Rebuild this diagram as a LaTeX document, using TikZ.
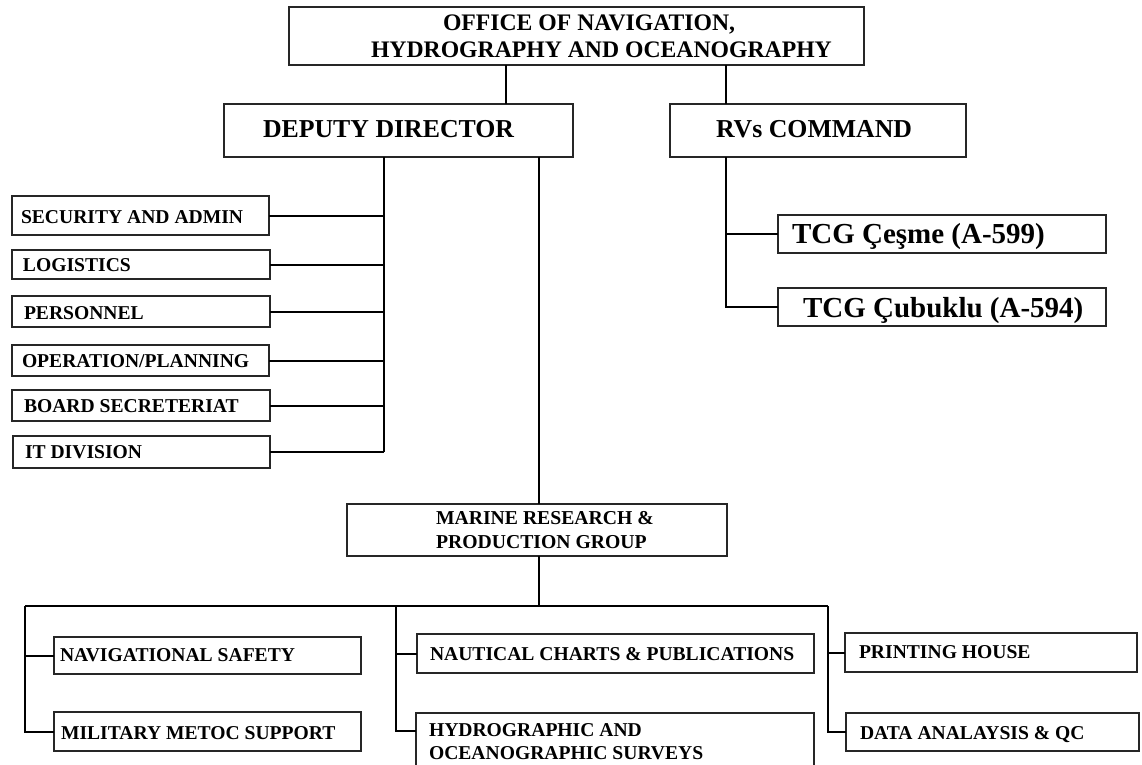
\documentclass[tikz,border=0pt]{standalone}
\usepackage{fontspec}
\setmainfont{Liberation Serif}
\newcommand\orgbox[5]{\node[box, minimum width={(#4-#2)*1pt}, minimum height={(#5-#3)*1pt}] (#1) at ({(#2+#4)/2},{(#3+#5)/2}) {};}
\newcommand\orgtxt[5]{\node[txt, font=\fontsize{#4}{#4}\selectfont\bfseries] (#1) at (#2,#3) {#5};}
\begin{document}
\begin{tikzpicture}[x=1pt,y=-1pt,
  box/.style={draw=black!85, line width=1.3pt, rectangle, inner sep=0pt, outer sep=0pt},
  txt/.style={anchor=base west, inner sep=0pt, outer sep=0pt},
  conn/.style={draw=black, line width=2pt}]
\useasboundingbox (0,0) rectangle (1142,764);
\clip (0,0) rectangle (1142,764);
% boxes
\orgbox{org}{289}{7}{864}{65}
\orgbox{dd}{224}{104}{573}{157}
\orgbox{rvs}{670}{104}{966}{157}
\orgbox{sec}{12}{196}{269}{235}
\orgbox{log}{12}{250}{270}{279}
\orgbox{per}{12}{296}{270}{327}
\orgbox{ops}{12}{345}{269}{376}
\orgbox{brd}{12}{390}{270}{421}
\orgbox{itd}{13}{436}{270}{468}
\orgbox{ces}{778}{215}{1106}{253}
\orgbox{cub}{778}{288}{1106}{326}
\orgbox{mar}{347}{504}{727}{556}
\orgbox{nav}{54}{637}{361}{674}
\orgbox{mil}{54}{712}{361}{751}
\orgbox{nau}{417}{634}{814}{673}
\orgbox{hyd}{416}{713}{814}{775}
\orgbox{prt}{845}{633}{1137}{672}
\orgbox{dat}{846}{713}{1139}{751}
% texts
\orgtxt{orgA}{443}{30}{23.7}{OFFICE OF NAVIGATION,}
\orgtxt{orgB}{371}{57}{23.7}{HYDROGRAPHY AND OCEANOGRAPHY}
\orgtxt{ddT}{263}{137}{25.8}{DEPUTY DIRECTOR}
\orgtxt{rvsT}{716}{137}{25.8}{RVs COMMAND}
\orgtxt{secT}{21}{223}{19.6}{SECURITY AND ADMIN}
\orgtxt{logT}{23}{271}{19.6}{LOGISTICS}
\orgtxt{perT}{24}{319}{19.6}{PERSONNEL}
\orgtxt{opsT}{22}{367}{19.6}{OPERATION/PLANNING}
\orgtxt{brdT}{24}{412}{19.6}{BOARD SECRETERIAT}
\orgtxt{itdT}{25}{458}{19.6}{IT DIVISION}
\orgtxt{cesT}{792}{243}{29}{TCG Çeşme (A-599)}
\orgtxt{cubT}{803}{317}{29}{TCG Çubuklu (A-594)}
\orgtxt{marA}{436}{524}{19.7}{MARINE RESEARCH \&}
\orgtxt{marB}{436}{548}{19.7}{PRODUCTION GROUP}
\orgtxt{navT}{60}{661}{19.6}{NAVIGATIONAL SAFETY}
\orgtxt{milT}{61}{739}{19.6}{MILITARY METOC SUPPORT}
\orgtxt{nauT}{430}{660}{19.6}{NAUTICAL CHARTS \& PUBLICATIONS}
\orgtxt{hydA}{429}{736}{19.6}{HYDROGRAPHIC AND}
\orgtxt{hydB}{429}{759}{19.6}{OCEANOGRAPHIC SURVEYS}
\orgtxt{prtT}{859}{658}{19.6}{PRINTING HOUSE}
\orgtxt{datT}{860}{739}{19.6}{DATA ANALAYSIS \& QC}
% connector coordinates
\coordinate (xa) at (506,0);
\coordinate (xb) at (726,0);
\coordinate (xl) at (384,0);
\coordinate (xm) at (539,0);
\coordinate (busL) at (25,606);
\coordinate (busM) at (396,606);
\coordinate (busR) at (828,606);
% connectors
\draw[conn] (org.south -| xa) -- (dd.north -| xa);
\draw[conn] (org.south -| xb) -- (rvs.north -| xb);
\draw[conn] (dd.south -| xl) -- (itd.east -| xl);
\foreach \n in {sec,log,per,ops,brd,itd} \draw[conn] (\n.east) -- (\n.east -| xl);
\draw[conn] (rvs.south -| xb) -- (cub.west -| xb) -- (cub.west);
\draw[conn] (ces.west -| xb) -- (ces.west);
\draw[conn] (dd.south -| xm) -- (mar.north -| xm);
\draw[conn] (mar.south -| xm) -- (busL -| xm);
\draw[conn] (busL) -- (busR);
\draw[conn] (busL) -- (mil.west -| busL) -- (mil.west);
\draw[conn] (nav.west -| busL) -- (nav.west);
\draw[conn] (busM) -- ([yshift=-18pt]hyd.north west -| busM) -- ([yshift=-18pt]hyd.north west);
\draw[conn] (nau.west -| busM) -- (nau.west);
\draw[conn] (busR) -- (dat.west -| busR) -- (dat.west);
\draw[conn] (prt.west -| busR) -- (prt.west);
\end{tikzpicture}
\end{document}
